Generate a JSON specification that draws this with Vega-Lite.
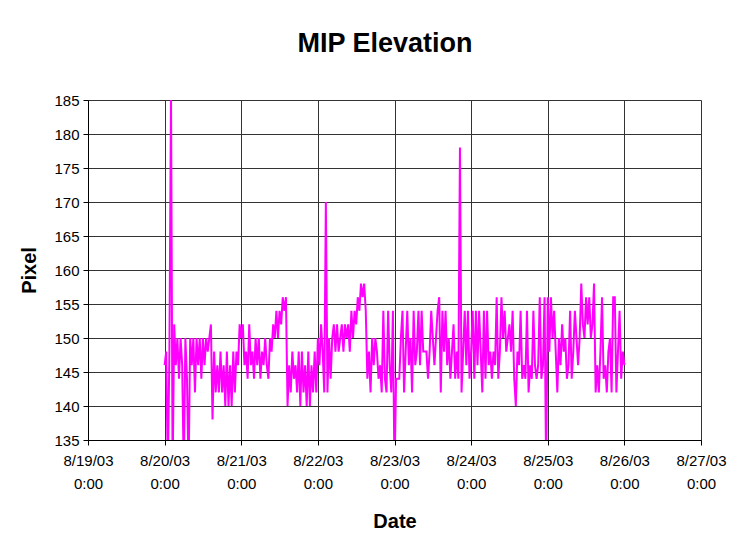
{
  "$schema": "https://vega.github.io/schema/vega-lite/v6.json",
  "width": 613,
  "height": 340,
  "autosize": {"type": "none"},
  "padding": {"left": 88, "top": 100, "right": 48, "bottom": 118},
  "background": "white",
  "title": {
    "text": "MIP Elevation",
    "font": "Liberation Sans",
    "fontSize": 27,
    "fontWeight": "bold",
    "color": "black",
    "anchor": "middle",
    "offset": 35,
    "dx": -9.5
  },
  "data": {
    "values": [
      {"t": "2003-08-20T00:00", "v": 146}, {"t": "2003-08-20T00:30", "v": 148}, {"t": "2003-08-20T01:00", "v": 130}, {"t": "2003-08-20T01:30", "v": 148},
      {"t": "2003-08-20T02:00", "v": 186}, {"t": "2003-08-20T02:30", "v": 130}, {"t": "2003-08-20T03:00", "v": 152}, {"t": "2003-08-20T03:30", "v": 146},
      {"t": "2003-08-20T04:00", "v": 150}, {"t": "2003-08-20T04:30", "v": 144}, {"t": "2003-08-20T05:00", "v": 150}, {"t": "2003-08-20T05:30", "v": 146},
      {"t": "2003-08-20T06:00", "v": 130}, {"t": "2003-08-20T06:30", "v": 150}, {"t": "2003-08-20T07:00", "v": 144}, {"t": "2003-08-20T07:30", "v": 130},
      {"t": "2003-08-20T08:00", "v": 150}, {"t": "2003-08-20T08:30", "v": 146}, {"t": "2003-08-20T09:00", "v": 150}, {"t": "2003-08-20T09:30", "v": 142},
      {"t": "2003-08-20T10:00", "v": 150}, {"t": "2003-08-20T10:30", "v": 146}, {"t": "2003-08-20T11:00", "v": 150}, {"t": "2003-08-20T11:30", "v": 144},
      {"t": "2003-08-20T12:00", "v": 150}, {"t": "2003-08-20T12:30", "v": 146}, {"t": "2003-08-20T13:00", "v": 150}, {"t": "2003-08-20T13:30", "v": 148},
      {"t": "2003-08-20T14:00", "v": 150}, {"t": "2003-08-20T14:30", "v": 152}, {"t": "2003-08-20T15:00", "v": 138}, {"t": "2003-08-20T15:30", "v": 148},
      {"t": "2003-08-20T16:00", "v": 142}, {"t": "2003-08-20T16:30", "v": 146}, {"t": "2003-08-20T17:00", "v": 142}, {"t": "2003-08-20T17:30", "v": 148},
      {"t": "2003-08-20T18:00", "v": 142}, {"t": "2003-08-20T18:30", "v": 146}, {"t": "2003-08-20T19:00", "v": 140}, {"t": "2003-08-20T19:30", "v": 148},
      {"t": "2003-08-20T20:00", "v": 140}, {"t": "2003-08-20T20:30", "v": 146}, {"t": "2003-08-20T21:00", "v": 140}, {"t": "2003-08-20T21:30", "v": 148},
      {"t": "2003-08-20T22:00", "v": 142}, {"t": "2003-08-20T22:30", "v": 148}, {"t": "2003-08-20T23:00", "v": 146}, {"t": "2003-08-20T23:30", "v": 152},

      {"t": "2003-08-21T00:00", "v": 150}, {"t": "2003-08-21T00:30", "v": 152}, {"t": "2003-08-21T01:00", "v": 146}, {"t": "2003-08-21T01:30", "v": 148},
      {"t": "2003-08-21T02:00", "v": 144}, {"t": "2003-08-21T02:30", "v": 152}, {"t": "2003-08-21T03:00", "v": 146}, {"t": "2003-08-21T03:30", "v": 148},
      {"t": "2003-08-21T04:00", "v": 144}, {"t": "2003-08-21T04:30", "v": 150}, {"t": "2003-08-21T05:00", "v": 146}, {"t": "2003-08-21T05:30", "v": 150},
      {"t": "2003-08-21T06:00", "v": 144}, {"t": "2003-08-21T06:30", "v": 148}, {"t": "2003-08-21T07:00", "v": 146}, {"t": "2003-08-21T07:30", "v": 150},
      {"t": "2003-08-21T08:00", "v": 146}, {"t": "2003-08-21T08:30", "v": 144}, {"t": "2003-08-21T09:00", "v": 150}, {"t": "2003-08-21T09:30", "v": 148},
      {"t": "2003-08-21T10:00", "v": 152}, {"t": "2003-08-21T10:30", "v": 150}, {"t": "2003-08-21T11:00", "v": 154}, {"t": "2003-08-21T11:30", "v": 150},
      {"t": "2003-08-21T12:00", "v": 154}, {"t": "2003-08-21T12:30", "v": 152}, {"t": "2003-08-21T13:00", "v": 156}, {"t": "2003-08-21T13:30", "v": 154},
      {"t": "2003-08-21T14:00", "v": 156}, {"t": "2003-08-21T14:30", "v": 140}, {"t": "2003-08-21T15:00", "v": 146}, {"t": "2003-08-21T15:30", "v": 142},
      {"t": "2003-08-21T16:00", "v": 148}, {"t": "2003-08-21T16:30", "v": 144}, {"t": "2003-08-21T17:00", "v": 146}, {"t": "2003-08-21T17:30", "v": 142},
      {"t": "2003-08-21T18:00", "v": 148}, {"t": "2003-08-21T18:30", "v": 140}, {"t": "2003-08-21T19:00", "v": 148}, {"t": "2003-08-21T19:30", "v": 142},
      {"t": "2003-08-21T20:00", "v": 146}, {"t": "2003-08-21T20:30", "v": 140}, {"t": "2003-08-21T21:00", "v": 148}, {"t": "2003-08-21T21:30", "v": 140},
      {"t": "2003-08-21T22:00", "v": 146}, {"t": "2003-08-21T22:30", "v": 142}, {"t": "2003-08-21T23:00", "v": 148}, {"t": "2003-08-21T23:30", "v": 142},

      {"t": "2003-08-22T00:00", "v": 150}, {"t": "2003-08-22T00:30", "v": 146}, {"t": "2003-08-22T01:00", "v": 152}, {"t": "2003-08-22T01:30", "v": 148},
      {"t": "2003-08-22T02:00", "v": 142}, {"t": "2003-08-22T02:30", "v": 170}, {"t": "2003-08-22T03:00", "v": 142}, {"t": "2003-08-22T03:30", "v": 150},
      {"t": "2003-08-22T04:00", "v": 144}, {"t": "2003-08-22T04:30", "v": 150}, {"t": "2003-08-22T05:00", "v": 152}, {"t": "2003-08-22T05:30", "v": 148},
      {"t": "2003-08-22T06:00", "v": 152}, {"t": "2003-08-22T06:30", "v": 148}, {"t": "2003-08-22T07:00", "v": 150}, {"t": "2003-08-22T07:30", "v": 152},
      {"t": "2003-08-22T08:00", "v": 148}, {"t": "2003-08-22T08:30", "v": 152}, {"t": "2003-08-22T09:00", "v": 150}, {"t": "2003-08-22T09:30", "v": 152},
      {"t": "2003-08-22T10:00", "v": 148}, {"t": "2003-08-22T10:30", "v": 154}, {"t": "2003-08-22T11:00", "v": 150}, {"t": "2003-08-22T11:30", "v": 154},
      {"t": "2003-08-22T12:00", "v": 152}, {"t": "2003-08-22T12:30", "v": 156}, {"t": "2003-08-22T13:00", "v": 154}, {"t": "2003-08-22T13:30", "v": 158},
      {"t": "2003-08-22T14:00", "v": 156}, {"t": "2003-08-22T14:30", "v": 158}, {"t": "2003-08-22T15:00", "v": 154}, {"t": "2003-08-22T15:30", "v": 144},
      {"t": "2003-08-22T16:00", "v": 148}, {"t": "2003-08-22T16:30", "v": 142}, {"t": "2003-08-22T17:00", "v": 150}, {"t": "2003-08-22T17:30", "v": 146},
      {"t": "2003-08-22T18:00", "v": 150}, {"t": "2003-08-22T18:30", "v": 148}, {"t": "2003-08-22T19:00", "v": 144}, {"t": "2003-08-22T19:30", "v": 146},
      {"t": "2003-08-22T20:00", "v": 142}, {"t": "2003-08-22T20:30", "v": 154}, {"t": "2003-08-22T21:00", "v": 144}, {"t": "2003-08-22T21:30", "v": 142},
      {"t": "2003-08-22T22:00", "v": 154}, {"t": "2003-08-22T22:30", "v": 146}, {"t": "2003-08-22T23:00", "v": 142}, {"t": "2003-08-22T23:30", "v": 154},

      {"t": "2003-08-23T00:00", "v": 130}, {"t": "2003-08-23T00:30", "v": 144}, {"t": "2003-08-23T01:00", "v": 144}, {"t": "2003-08-23T01:30", "v": 144},
      {"t": "2003-08-23T02:00", "v": 150}, {"t": "2003-08-23T02:30", "v": 154}, {"t": "2003-08-23T03:00", "v": 142}, {"t": "2003-08-23T03:30", "v": 148},
      {"t": "2003-08-23T04:00", "v": 154}, {"t": "2003-08-23T04:30", "v": 146}, {"t": "2003-08-23T05:00", "v": 150}, {"t": "2003-08-23T05:30", "v": 142},
      {"t": "2003-08-23T06:00", "v": 154}, {"t": "2003-08-23T06:30", "v": 146}, {"t": "2003-08-23T07:00", "v": 148}, {"t": "2003-08-23T07:30", "v": 154},
      {"t": "2003-08-23T08:00", "v": 146}, {"t": "2003-08-23T08:30", "v": 154}, {"t": "2003-08-23T09:00", "v": 148}, {"t": "2003-08-23T09:30", "v": 148},
      {"t": "2003-08-23T10:00", "v": 148}, {"t": "2003-08-23T10:30", "v": 144}, {"t": "2003-08-23T11:00", "v": 148}, {"t": "2003-08-23T11:30", "v": 154},
      {"t": "2003-08-23T12:00", "v": 150}, {"t": "2003-08-23T12:30", "v": 146}, {"t": "2003-08-23T13:00", "v": 150}, {"t": "2003-08-23T13:30", "v": 154},
      {"t": "2003-08-23T14:00", "v": 156}, {"t": "2003-08-23T14:30", "v": 142}, {"t": "2003-08-23T15:00", "v": 154}, {"t": "2003-08-23T15:30", "v": 148},
      {"t": "2003-08-23T16:00", "v": 154}, {"t": "2003-08-23T16:30", "v": 146}, {"t": "2003-08-23T17:00", "v": 150}, {"t": "2003-08-23T17:30", "v": 144},
      {"t": "2003-08-23T18:00", "v": 148}, {"t": "2003-08-23T18:30", "v": 152}, {"t": "2003-08-23T19:00", "v": 144}, {"t": "2003-08-23T19:30", "v": 148},
      {"t": "2003-08-23T20:00", "v": 144}, {"t": "2003-08-23T20:30", "v": 178}, {"t": "2003-08-23T21:00", "v": 142}, {"t": "2003-08-23T21:30", "v": 148},
      {"t": "2003-08-23T22:00", "v": 154}, {"t": "2003-08-23T22:30", "v": 146}, {"t": "2003-08-23T23:00", "v": 154}, {"t": "2003-08-23T23:30", "v": 144},

      {"t": "2003-08-24T00:00", "v": 148}, {"t": "2003-08-24T00:30", "v": 154}, {"t": "2003-08-24T01:00", "v": 144}, {"t": "2003-08-24T01:30", "v": 154},
      {"t": "2003-08-24T02:00", "v": 146}, {"t": "2003-08-24T02:30", "v": 154}, {"t": "2003-08-24T03:00", "v": 148}, {"t": "2003-08-24T03:30", "v": 142},
      {"t": "2003-08-24T04:00", "v": 154}, {"t": "2003-08-24T04:30", "v": 144}, {"t": "2003-08-24T05:00", "v": 154}, {"t": "2003-08-24T05:30", "v": 146},
      {"t": "2003-08-24T06:00", "v": 148}, {"t": "2003-08-24T06:30", "v": 144}, {"t": "2003-08-24T07:00", "v": 148}, {"t": "2003-08-24T07:30", "v": 146},
      {"t": "2003-08-24T08:00", "v": 156}, {"t": "2003-08-24T08:30", "v": 144}, {"t": "2003-08-24T09:00", "v": 148}, {"t": "2003-08-24T09:30", "v": 156},
      {"t": "2003-08-24T10:00", "v": 150}, {"t": "2003-08-24T10:30", "v": 154}, {"t": "2003-08-24T11:00", "v": 148}, {"t": "2003-08-24T11:30", "v": 150},
      {"t": "2003-08-24T12:00", "v": 152}, {"t": "2003-08-24T12:30", "v": 148}, {"t": "2003-08-24T13:00", "v": 154}, {"t": "2003-08-24T13:30", "v": 144},
      {"t": "2003-08-24T14:00", "v": 140}, {"t": "2003-08-24T14:30", "v": 148}, {"t": "2003-08-24T15:00", "v": 146}, {"t": "2003-08-24T15:30", "v": 154},
      {"t": "2003-08-24T16:00", "v": 144}, {"t": "2003-08-24T16:30", "v": 146}, {"t": "2003-08-24T17:00", "v": 144}, {"t": "2003-08-24T17:30", "v": 154},
      {"t": "2003-08-24T18:00", "v": 142}, {"t": "2003-08-24T18:30", "v": 146}, {"t": "2003-08-24T19:00", "v": 144}, {"t": "2003-08-24T19:30", "v": 154},
      {"t": "2003-08-24T20:00", "v": 146}, {"t": "2003-08-24T20:30", "v": 144}, {"t": "2003-08-24T21:00", "v": 146}, {"t": "2003-08-24T21:30", "v": 156},
      {"t": "2003-08-24T22:00", "v": 144}, {"t": "2003-08-24T22:30", "v": 146}, {"t": "2003-08-24T23:00", "v": 156}, {"t": "2003-08-24T23:30", "v": 130},

      {"t": "2003-08-25T00:00", "v": 156}, {"t": "2003-08-25T00:30", "v": 148}, {"t": "2003-08-25T01:00", "v": 156}, {"t": "2003-08-25T01:30", "v": 150},
      {"t": "2003-08-25T02:00", "v": 154}, {"t": "2003-08-25T02:30", "v": 148}, {"t": "2003-08-25T03:00", "v": 142}, {"t": "2003-08-25T03:30", "v": 150},
      {"t": "2003-08-25T04:00", "v": 146}, {"t": "2003-08-25T04:30", "v": 152}, {"t": "2003-08-25T05:00", "v": 148}, {"t": "2003-08-25T05:30", "v": 150},
      {"t": "2003-08-25T06:00", "v": 144}, {"t": "2003-08-25T06:30", "v": 146}, {"t": "2003-08-25T07:00", "v": 154}, {"t": "2003-08-25T07:30", "v": 144},
      {"t": "2003-08-25T08:00", "v": 148}, {"t": "2003-08-25T08:30", "v": 154}, {"t": "2003-08-25T09:00", "v": 150}, {"t": "2003-08-25T09:30", "v": 146},
      {"t": "2003-08-25T10:00", "v": 150}, {"t": "2003-08-25T10:30", "v": 158}, {"t": "2003-08-25T11:00", "v": 152}, {"t": "2003-08-25T11:30", "v": 150},
      {"t": "2003-08-25T12:00", "v": 156}, {"t": "2003-08-25T12:30", "v": 152}, {"t": "2003-08-25T13:00", "v": 156}, {"t": "2003-08-25T13:30", "v": 150},
      {"t": "2003-08-25T14:00", "v": 152}, {"t": "2003-08-25T14:30", "v": 158}, {"t": "2003-08-25T15:00", "v": 142}, {"t": "2003-08-25T15:30", "v": 146},
      {"t": "2003-08-25T16:00", "v": 142}, {"t": "2003-08-25T16:30", "v": 148}, {"t": "2003-08-25T17:00", "v": 156}, {"t": "2003-08-25T17:30", "v": 144},
      {"t": "2003-08-25T18:00", "v": 146}, {"t": "2003-08-25T18:30", "v": 142}, {"t": "2003-08-25T19:00", "v": 148}, {"t": "2003-08-25T19:30", "v": 150},
      {"t": "2003-08-25T20:00", "v": 142}, {"t": "2003-08-25T20:30", "v": 156}, {"t": "2003-08-25T21:00", "v": 156}, {"t": "2003-08-25T21:30", "v": 142},
      {"t": "2003-08-25T22:00", "v": 148}, {"t": "2003-08-25T22:30", "v": 154}, {"t": "2003-08-25T23:00", "v": 144}, {"t": "2003-08-25T23:30", "v": 148},
      {"t": "2003-08-26T00:00", "v": 146}
    ]
  },
  "mark": {"type": "line", "color": "#FF00FF", "strokeWidth": 2, "clip": true},
  "encoding": {
    "x": {
      "field": "t",
      "type": "temporal",
      "scale": {
        "domain": [
          {"year": 2003, "month": 8, "date": 19},
          {"year": 2003, "month": 8, "date": 27}
        ]
      },
      "axis": {
        "title": "Date",
        "tickCount": {"interval": "day", "step": 1},
        "labelExpr": "[timeFormat(datum.value, '%-m/%-d/%y'), timeFormat(datum.value, '%-H:%M')]",
        "labelLineHeight": 23,
        "labelAngle": 0,
        "labelFlush": false,
        "labelOverlap": false,
        "labelPadding": 8,
        "titlePadding": 20
      }
    },
    "y": {
      "field": "v",
      "type": "quantitative",
      "scale": {"domain": [135, 185], "nice": false, "zero": false},
      "axis": {
        "title": "Pixel",
        "values": [135, 140, 145, 150, 155, 160, 165, 170, 175, 180, 185],
        "labelPadding": 4,
        "titlePadding": 14
      }
    }
  },
  "config": {
    "view": {"stroke": null},
    "axis": {
      "labelFont": "Liberation Sans",
      "labelFontSize": 15,
      "labelColor": "black",
      "titleFont": "Liberation Sans",
      "titleFontSize": 20,
      "titleFontWeight": "bold",
      "titleColor": "black",
      "domainColor": "black",
      "domainWidth": 1,
      "tickColor": "black",
      "tickSize": 5,
      "tickWidth": 1,
      "grid": true,
      "gridColor": "#333333",
      "gridWidth": 1,
      "gridOpacity": 1
    }
  }
}
